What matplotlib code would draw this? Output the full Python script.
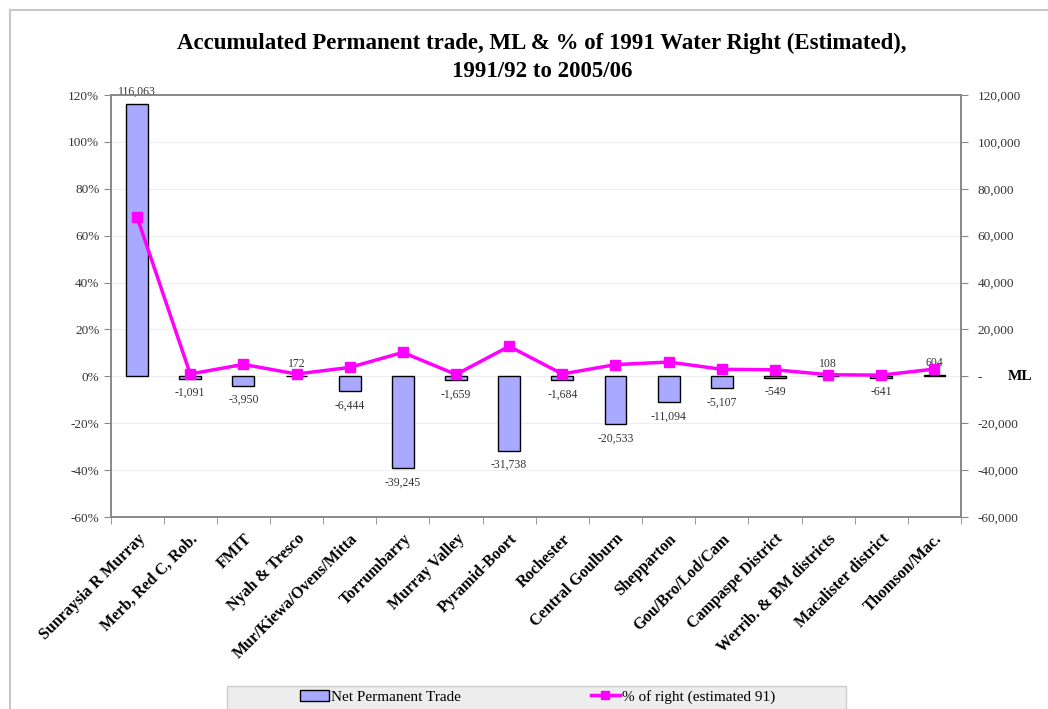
import matplotlib
matplotlib.use("Agg")
import matplotlib.pyplot as plt
from matplotlib.lines import Line2D
from matplotlib.patches import Rectangle
from matplotlib.ticker import FuncFormatter, FixedLocator
import numpy as np

districts = [
    "Sunraysia R Murray", "Merb, Red C, Rob.", "FMIT", "Nyah & Tresco",
    "Mur/Kiewa/Ovens/Mitta", "Torrumbarry", "Murray Valley", "Pyramid-Boort",
    "Rochester", "Central Goulburn", "Shepparton", "Gou/Bro/Lod/Cam",
    "Campaspe District", "Werrib. & BM districts", "Macalister district",
    "Thomson/Mac.",
]
net_trade_ml = [116063, -1091, -3950, 172, -6444, -39245, -1659, -31738,
                -1684, -20533, -11094, -5107, -549, 108, -641, 604]
pct_of_right = [0.68, 0.01, 0.051, 0.01, 0.038, 0.102, 0.008, 0.128,
                0.01, 0.05, 0.061, 0.03, 0.028, 0.007, 0.005, 0.031]

SERIF = "Liberation Serif"
BAR_COLOR = "#a9a9ff"
LINE_COLOR = "#ff00ff"
AXIS_GREY = "#888888"
TEXT_GREY = "#333333"

plt.rcParams["font.family"] = SERIF

fig = plt.figure(figsize=(10.48, 7.09), dpi=100)

# outer chart frame (top and left edges only are visible)
fig.add_artist(Line2D([10 / 1048, 1.0], [1 - 10 / 709] * 2, transform=fig.transFigure,
                      color="#c8c8c8", lw=1.5))
fig.add_artist(Line2D([10 / 1048] * 2, [0, 1 - 10 / 709], transform=fig.transFigure,
                      color="#c8c8c8", lw=1.5))

ax = fig.add_axes([110.5 / 1048, 1 - 517 / 709, 850.5 / 1048, 422 / 709])
ax2 = ax.twinx()

x = np.arange(len(districts))

# bars on the right-hand (ML) axis
bars = ax2.bar(x, net_trade_ml, width=0.41, color=BAR_COLOR, edgecolor="black",
               linewidth=1.0, zorder=2)
ax2.set_ylim(-60000, 120000)
ax2.yaxis.set_major_locator(FixedLocator(np.arange(-60000, 120001, 20000)))
ax2.yaxis.set_major_formatter(FuncFormatter(lambda v, p: "-" if v == 0 else f"{v:,.0f}"))

for xi, val in zip(x, net_trade_ml):
    if val >= 0:
        ax2.annotate(f"{val:,}", (xi, val), xytext=(0, 4.5), textcoords="offset points",
                     ha="center", va="bottom", fontsize=8.5, color=TEXT_GREY)
    else:
        ax2.annotate(f"{val:,}", (xi, val), xytext=(0, -6), textcoords="offset points",
                     ha="center", va="top", fontsize=8.5, color=TEXT_GREY)

# percent line on the left axis, drawn above the bars
ax.set_zorder(ax2.get_zorder() + 1)
ax.patch.set_visible(False)
ax.plot(x, pct_of_right, color=LINE_COLOR, lw=2.5, marker="s", markersize=7,
        zorder=3)
ax.set_ylim(-0.6, 1.2)
ax.yaxis.set_major_locator(FixedLocator(np.arange(-0.6, 1.21, 0.2)))
ax.yaxis.set_major_formatter(FuncFormatter(lambda v, p: f"{v * 100:.0f}%"))
ax.set_xlim(-0.5, len(districts) - 0.5)
ax2.set_xlim(-0.5, len(districts) - 0.5)

# faint horizontal gridlines
for v in np.arange(-0.4, 1.21, 0.2):
    ax2.axhline(v / 1.2 * 120000, color="#eeeeee", lw=0.8, zorder=0)

# category labels + boundary ticks
ax.set_xticks(x)
ax.set_xticklabels(districts, rotation=45, ha="right", rotation_mode="anchor",
                   fontsize=11.5, fontweight="bold")
ax.tick_params(axis="x", which="major", length=0, pad=10)
ax.set_xticks(np.arange(-0.5, len(districts), 1.0), minor=True)
ax.tick_params(axis="x", which="minor", length=5, color=AXIS_GREY)

ax.tick_params(axis="y", length=5, color=AXIS_GREY, labelsize=9.5,
               labelcolor=TEXT_GREY, pad=3)
ax2.tick_params(axis="y", length=5, color=AXIS_GREY, labelsize=9.5,
                labelcolor=TEXT_GREY, pad=7)
ax2.tick_params(axis="x", length=0, labelbottom=False)

for a in (ax, ax2):
    for s in a.spines.values():
        s.set_color(AXIS_GREY)
        s.set_linewidth(1.2)

ax2.text(1.055, 0, "ML", transform=ax2.get_yaxis_transform(), ha="left",
         va="center", fontsize=11, fontweight="bold")

fig.text(0.517, 1 - 33 / 709,
         "Accumulated Permanent trade, ML & % of 1991 Water Right (Estimated),\n"
         "1991/92 to 2005/06",
         ha="center", va="top", fontsize=16.5, fontweight="bold", linespacing=1.45)

# legend box at the bottom (cut off by the figure edge like the source)
fig.add_artist(Rectangle((227 / 1048, -0.02), 619 / 1048, 23 / 709 + 0.02,
                         transform=fig.transFigure, facecolor="#ededed",
                         edgecolor="#cccccc", lw=1.0))
handles = [
    Rectangle((0, 0), 1, 1, facecolor=BAR_COLOR, edgecolor="black", lw=1.0),
    Line2D([], [], color=LINE_COLOR, lw=2.5, marker="s", markersize=6),
]
fig.legend(handles, ["Net Permanent Trade", "% of right (estimated 91)"],
           loc="center", bbox_to_anchor=(0.513, 1 - 697 / 709), ncol=2,
           frameon=False, fontsize=11, columnspacing=8.5, handlelength=1.9,
           handletextpad=0.15)

fig.savefig("out.png", dpi=100)
